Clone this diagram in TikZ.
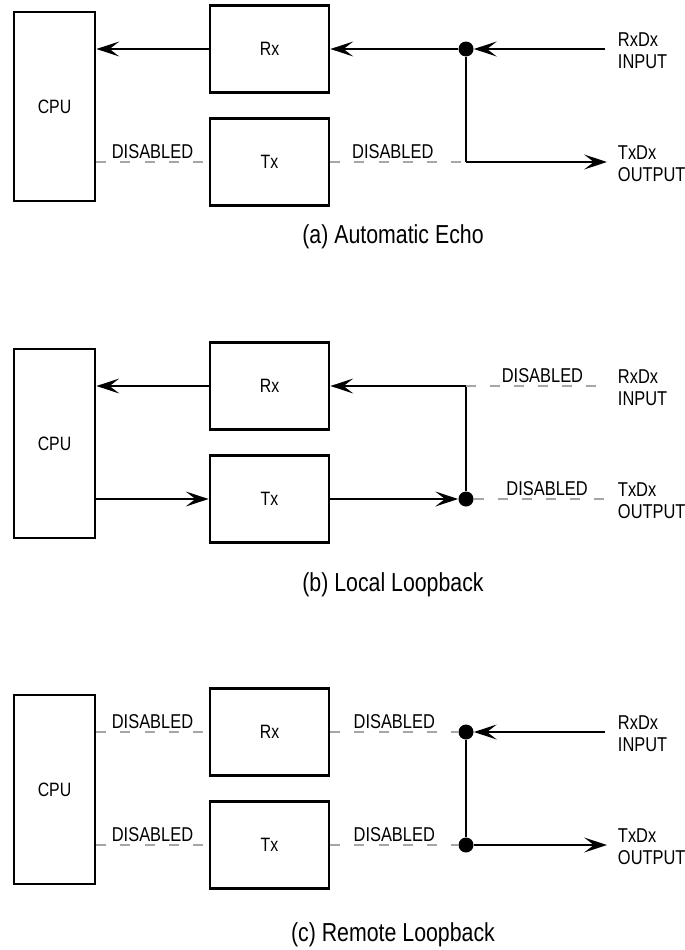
\documentclass[tikz,border=0pt]{standalone}
\usepackage{fontspec}
\setmainfont[FakeStretch=0.82]{Liberation Sans}
\usetikzlibrary{arrows.meta,calc}
\tikzset{
  sig/.style={line width=0.8pt,-{Stealth[length=13pt,width=8.5pt,inset=5.5pt]}},
  wire/.style={line width=0.8pt},
  dis/.style={draw=gray!70,line width=0.6pt,dash pattern=on 5.7pt off 8pt},
  blk/.style={draw,line width=1.6pt,inner sep=0pt,font=\fontsize{11}{13}\selectfont},
  lbl/.style={font=\fontsize{11.4}{12.5}\selectfont,inner sep=1.5pt},
  dot/.style={circle,fill,inner sep=0pt,minimum size=0.3cm}
}

\begin{document}
\begin{tikzpicture}[x=0.02cm,y=-0.02cm]
  \useasboundingbox (0,0) rectangle (685,950);
  % blocks, pins and caption of each panel
  \foreach \pn/\dy/\cy/\cpt in {a/0/237/(a) Automatic Echo,b/337/585/(b) Local Loopback,c/683/935/(c) Remote Loopback}{
    \node[blk,minimum width=1.62cm,minimum height=3.78cm] (cpu\pn) at (54.5,106.5+\dy) {CPU};
    \node[blk,minimum width=2.38cm,minimum height=1.75cm] (rx\pn) at (269.5,49+\dy) {Rx};
    \node[blk,minimum width=2.38cm,minimum height=1.75cm] (tx\pn) at (269.5,162+\dy) {Tx};
    \coordinate (in\pn) at (605,49+\dy);
    \coordinate (out\pn) at (607,162+\dy);
    \node[lbl,anchor=west,align=left] (rxd\pn) at (615,51+\dy) {RxDx\\INPUT};
    \node[lbl,anchor=west,align=left] (txd\pn) at (615,164+\dy) {TxDx\\OUTPUT};
    \node[font=\fontsize{14.8}{17}\selectfont] (cap\pn) at (393,\cy) {\cpt};
  }
  % (a) automatic echo
  \node[dot] (jra) at (466,49) {};
  \coordinate (jta) at (466,162);
  \draw[sig] (ina) -- (jra);
  \draw[sig] (jra) -- (rxa);
  \draw[sig] (rxa) -- (cpua.east |- rxa);
  \draw[wire] (jra) -- (jta);
  \draw[sig] (jta) -- (outa);
  \draw[dis] (cpua.east |- txa) -- node[lbl,above]{DISABLED} (txa);
  \draw[dis] (txa) -- node[lbl,above,pos=0.46]{DISABLED} (jta);
  % (b) local loopback
  \coordinate (jrb) at (466,386);
  \node[dot] (jtb) at (466,499) {};
  \draw[sig] (jrb) -- (rxb);
  \draw[sig] (rxb) -- (cpub.east |- rxb);
  \draw[sig] (cpub.east |- txb) -- (txb);
  \draw[sig] (txb) -- (jtb);
  \draw[wire] (jrb) -- (jtb);
  \draw[dis] (jrb) -- node[lbl,above,pos=0.55]{DISABLED} (inb);
  \draw[dis] (jtb) -- node[lbl,above,pos=0.55]{DISABLED} (outb);
  % (c) remote loopback
  \node[dot] (jrc) at (466,732) {};
  \node[dot] (jtc) at (466,845) {};
  \draw[sig] (inc) -- (jrc);
  \draw[sig] (jtc) -- (outc);
  \draw[wire] (jrc) -- (jtc);
  \draw[dis] (cpuc.east |- rxc) -- node[lbl,above]{DISABLED} (rxc);
  \draw[dis] (cpuc.east |- txc) -- node[lbl,above]{DISABLED} (txc);
  \draw[dis] (rxc) -- node[lbl,above]{DISABLED} (jrc);
  \draw[dis] (txc) -- node[lbl,above]{DISABLED} (jtc);
\end{tikzpicture}
\end{document}
